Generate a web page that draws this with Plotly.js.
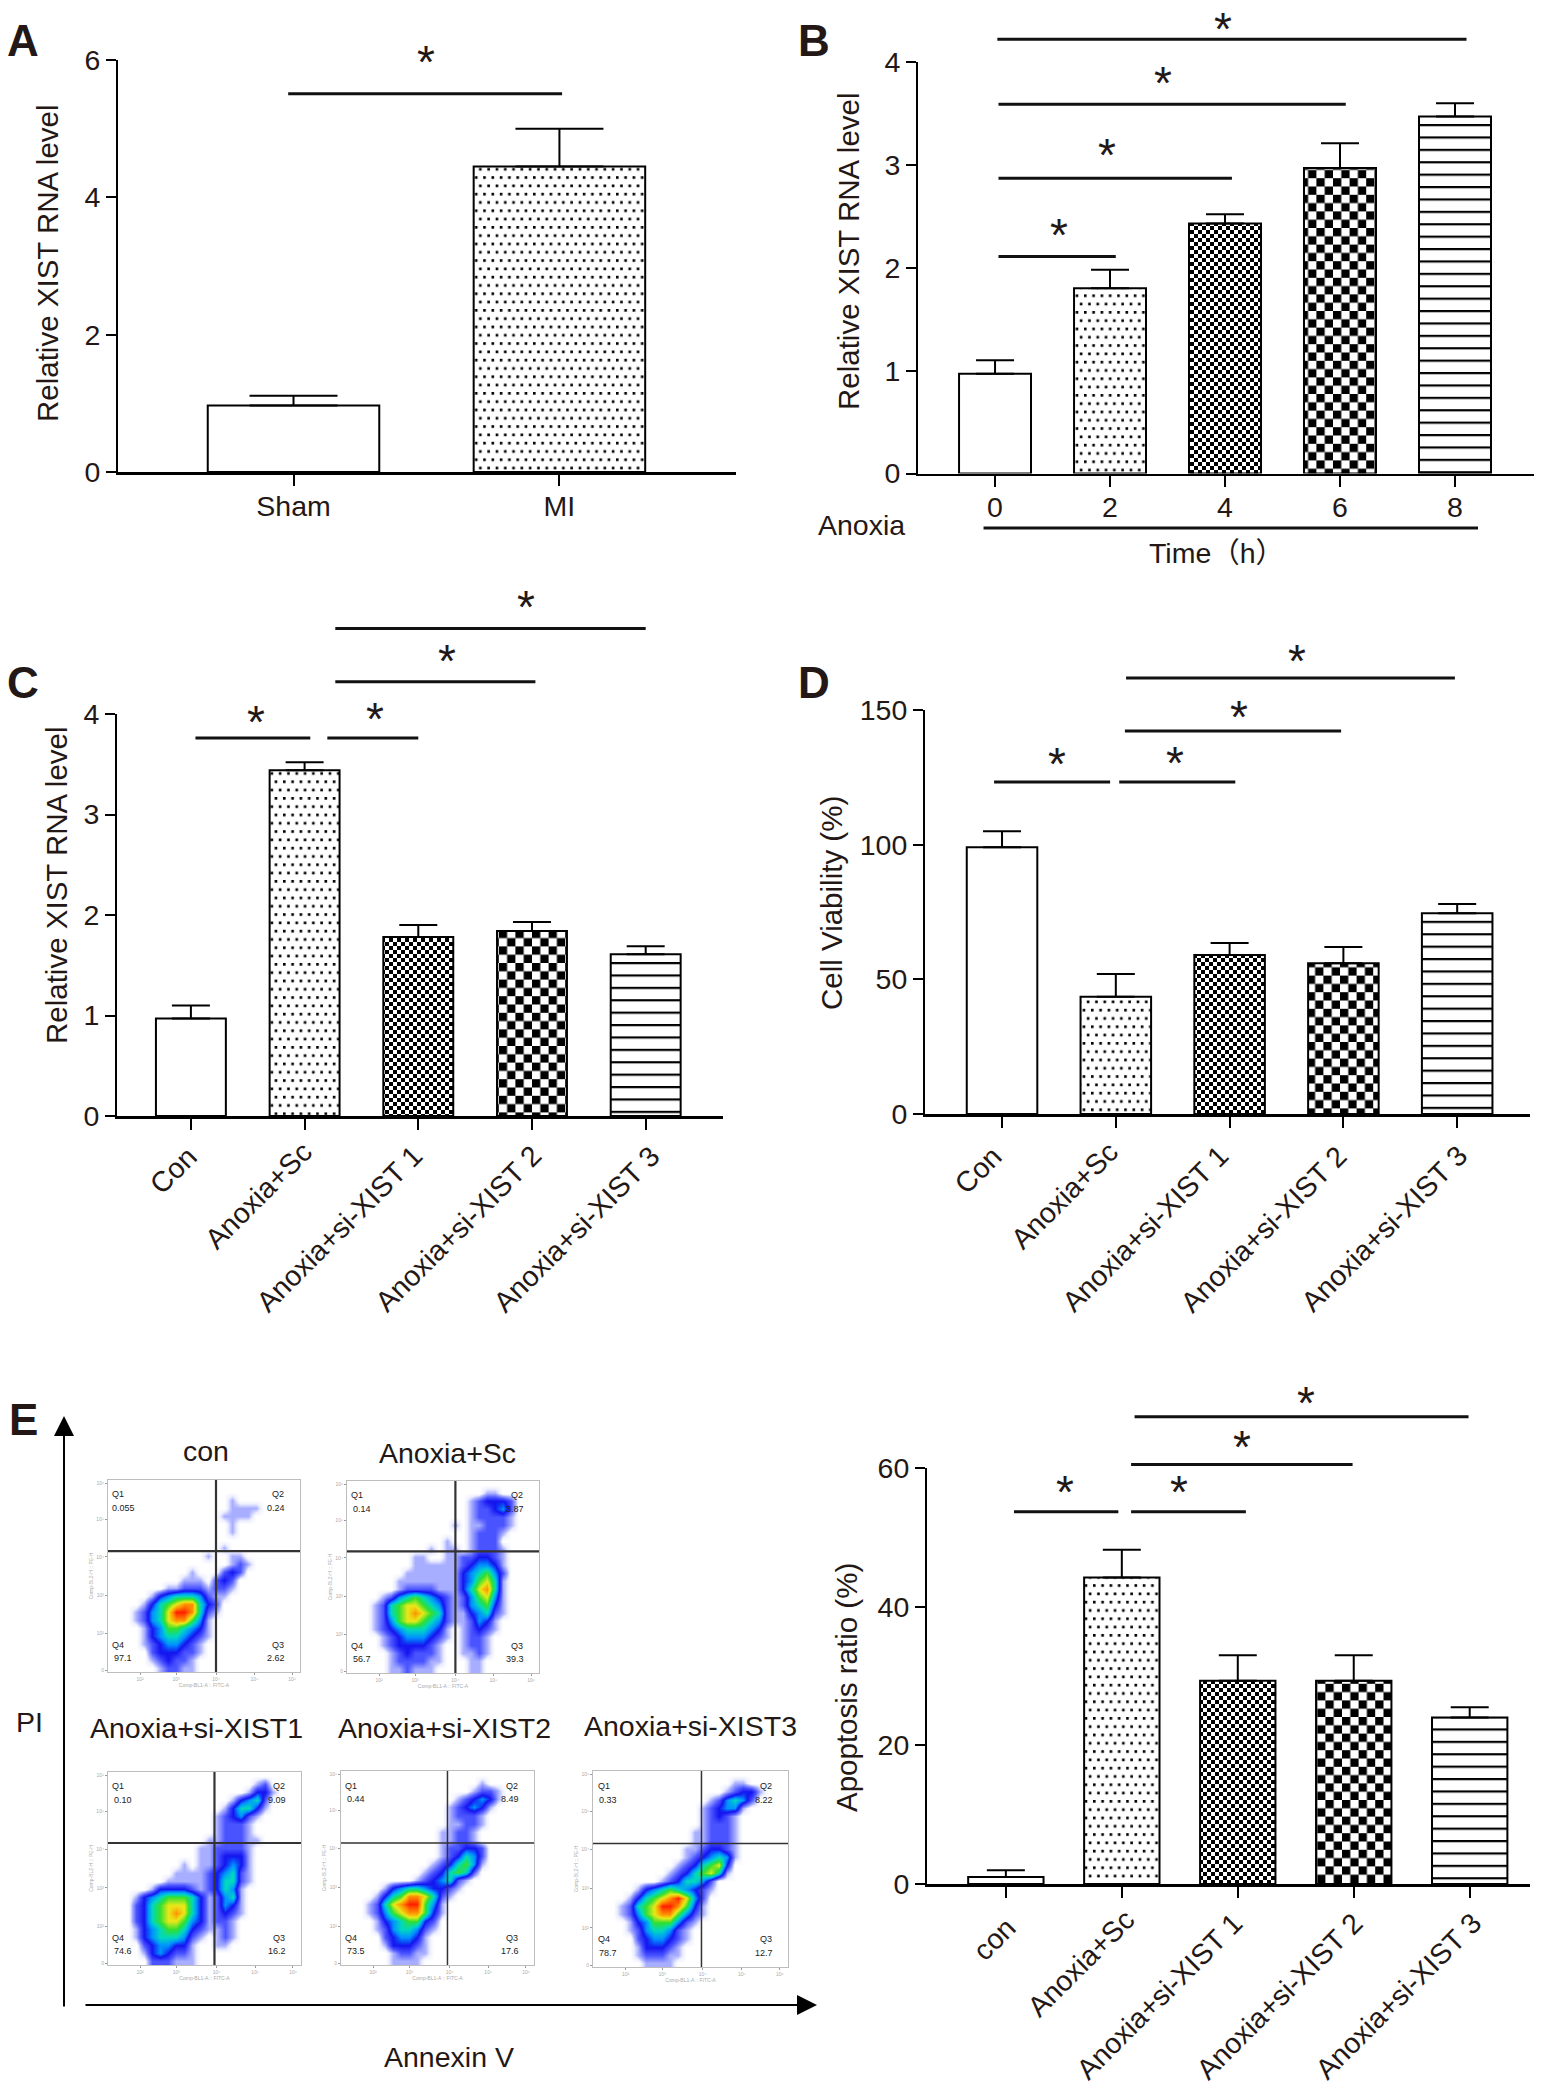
<!DOCTYPE html>
<html><head><meta charset="utf-8">
<script src="https://cdn.plot.ly/plotly-3.0.1.min.js"></script>
<style>html,body{margin:0;padding:0;background:#fff}</style></head>
<body><div id="chart" style="width:1557px;height:2090px"></div>
<script>
// ---------- data ----------
const catsA = ["Sham","MI"];
const valsA = [0.97,4.45];
const topsA = [1.11,5.0];
const catsB = ["0","2","4","6","8"];
const valsB = [0.97,1.8,2.43,2.97,3.47];
const topsB = [1.1,1.98,2.52,3.21,3.6];
const catsC = ["Con","Anoxia+Sc","Anoxia+si-XIST 1","Anoxia+si-XIST 2","Anoxia+si-XIST 3"];
const valsC = [0.97,3.44,1.78,1.84,1.61];
const topsC = [1.1,3.52,1.9,1.93,1.69];
const catsD = catsC;
const valsD = [99,43.5,59,56,74.5];
const topsD = [105,52,63.5,62,78];
const catsE = ["con","Anoxia+Sc","Anoxia+si-XIST 1","Anoxia+si-XIST 2","Anoxia+si-XIST 3"];
const valsE = [1,44.2,29.3,29.3,24];
const topsE = [2,48.2,33,33,25.5];
// significance bars [from, to, level], stars [x, level]
const sigA = [[-0.02,1.01,5.51]];
const starA = [[0.5,6.06]];
const sigB = [[0.02,4.1,4.22],[0.03,3.05,3.59],[0.03,2.06,2.87],[0.03,1.05,2.11]];
const starB = [[1.98,4.45],[1.46,3.85],[0.97,3.15],[0.56,2.38]];
const sigC = [[0.04,1.05,3.76],[1.2,2.0,3.76],[1.27,3.03,4.32],[1.27,4.0,4.85]];
const starC = [[0.57,3.98],[1.62,4.01],[2.25,4.59],[2.95,5.12]];
const sigD = [[-0.07,0.95,123.3],[1.03,2.05,123.3],[1.08,2.98,142.2],[1.09,3.98,161.9]];
const starD = [[0.48,132.2],[1.52,132.6],[2.08,149.6],[2.59,170.4]];
const sigE = [[0.07,0.97,53.7],[1.08,2.07,53.7],[1.08,2.99,60.5],[1.11,3.99,67.4]];
const starE = [[0.51,57.4],[1.49,57.4],[2.04,63.9],[2.59,70.3]];
// flow-cytometry density on a 24x24 grid (digit = density level 0-9)
const flowCon = ["000000000000000000000000","000000000000000000000000","000000000000000100000000","000000000000000111100000","000000000000001111000000","000000000000000100000000","000000000000000100000000","000000000000000000000000","000000000000001000000000","000000000000100110000000","000000000000000121000000","000000000010002320000000","000000000111023200000000","000000011222122100000000","000001345554211000000000","000013567885320000000000","000124579985210000000000","000124578864100000000000","000013466543100000000000","000013455432100000000000","000012344321000000000000","000002333221000000000000","000001232210000000000000","000000122110000000000000"];
const flowSc = ["000000000000000000000000","000000000000000001100000","000000000000000123332000","000000000000000122342000","000000000000000122221000","000000000000010112221000","000000000000000122210000","000000000000100122200000","000000000010110122210000","000000001100112233210000","000000001111112344310000","000000011111113456420000","000000111111113467510000","000000122221113578510000","000012456543212467410000","000125677654212456310000","000125678765211345210000","000124677654211243100000","000123455543101232100000","000012344432101221000000","000012333321001221000000","000001232221001121000000","000001222211000110000000","000001121110000110000000"];
const flowSi1 = ["000000000000000000000000","000000000000000000120000","000000000000000001331000","000000000000000134520000","000000000000001355310000","000000000000012342100000","000000000000012221000000","000000000000012221000000","000000000000112221100000","000000000001122221000000","000000000001123331000000","000000000101123431000000","000000001111234521000000","000000011111235521000000","000001333321235410000000","000134566653124510000000","000235677753124310000000","000235678753123210000000","000235677643122100000000","000134566532112100000000","000134555421012100000000","000023443310011000000000","000013432210000000000000","000002221110000000000000"];
const flowSi2 = ["000000000000000000000000","000000000000000001000000","000000000000000012210000","000000000000001234310000","000000000000012343100000","000000000000012221000000","000000000000011221000000","000000000000112210000000","000000000000112210000000","000000000000122332000000","000000000000123542000000","000000000001235641000000","000000000012356520000000","000000000123452100000000","000001345543321000000000","000013568875210000000000","000125789964100000000000","000124678863100000000000","000013456632000000000000","000012455421000000000000","000002344310000000000000","000001333210000000000000","000000122110000000000000","000000111100000000000000"];
const flowSi3 = ["000000000000000000000000","000000000000000001100000","000000000000000012331000","000000000000001245420000","000000000000012344100000","000000000000012321000000","000000000000012221000000","000000000000112221000000","000000000000112221000000","000000000001123321000000","000000000001234541000000","000000000012356730000000","000000000123567510000000","000000001235542000000000","000001345654321000000000","000013567897420000000000","000125679986310000000000","000124678864210000000000","000013466642100000000000","000012455421000000000000","000002344321000000000000","000001333210000000000000","000001222110000000000000","000000111100000000000000"];
const titlesFlow = ["con","Anoxia+Sc","Anoxia+si-XIST1","Anoxia+si-XIST2","Anoxia+si-XIST3"];
const quadQ1 = ["0.055","0.14","0.10","0.44","0.33"];
const quadQ2 = ["0.24","3.87","9.09","8.49","8.22"];
const quadQ3 = ["2.62","39.3","16.2","17.6","12.7"];
const quadQ4 = ["97.1","56.7","74.6","73.5","78.7"];
const gateCol = [13,13.05,12.74,12.74,12.85];
const gateRow = [8.4,8.3,8.33,8.4,8.39];
const flowTickLabels = ["10\u00b2","10\u00b3","10\u2074","10\u2075","10\u2076"];

// ---------- layout helpers ----------
const W=1557,H=2090, INK="#231815", FONT="Liberation Sans, Arial, sans-serif", SIZE=28.5, TITLE=29.5;
const dotPath="M0 0h2.6v2.6h-2.6zM8.3 0h2.6v2.6h-2.6zM4.15 8.3h2.6v2.6h-2.6zM12.45 8.3h2.6v2.6h-2.6z";
const fine="M0 0h4v4h-4zM4 4h4v4h-4z";
const coarse="M0 0h8.3v8.3h-8.3zM8.3 8.3h8.3v8.3h-8.3z";
const stripes="M0 0h12.4v2.2h-12.4z";
const pat={none:{path:"",size:8},dots:{path:dotPath,size:16.6},fine:{path:fine,size:8},coarse:{path:coarse,size:16.6},stripes:{path:stripes,size:12.4}};
const panels={
 A:{id:"",l:118,r:736,t:60,b:472,xr:[-0.66,1.664],yr:[0,6],yt:[0,2,4,6],bw:0.645,cap:44,cats:catsA,vals:valsA,tops:topsA,pats:["none","dots"],sig:sigA,star:starA},
 B:{id:"2",l:918,r:1534,t:62,b:473.5,xr:[-0.67,4.687],yr:[0,4],yt:[0,1,2,3,4],bw:0.626,cap:19,cats:catsB,vals:valsB,tops:topsB,pats:["none","dots","fine","coarse","stripes"],sig:sigB,star:starB},
 C:{id:"3",l:117,r:723,t:714,b:1116,xr:[-0.65,4.68],yr:[0,4],yt:[0,1,2,3,4],bw:0.615,cap:19,cats:catsC,vals:valsC,tops:topsC,pats:["none","dots","fine","coarse","stripes"],sig:sigC,star:starC,
    rot:[[130,877],[194,896],[254,921],[343,921],[432,921]]},
 D:{id:"4",l:925,r:1530,t:710,b:1114,xr:[-0.677,4.64],yr:[0,150],yt:[0,50,100,150],bw:0.62,cap:19,cats:catsD,vals:valsD,tops:topsD,pats:["none","dots","fine","coarse","stripes"],sig:sigD,star:starD,
    rot:[[733,877],[798,896],[858,921],[947,921],[1037,921]]},
 E:{id:"5",l:927,r:1530,t:1468,b:1884,xr:[-0.68,4.52],yr:[0,60],yt:[0,20,40,60],bw:0.65,cap:19,cats:catsE,vals:valsE,tops:topsE,pats:["none","dots","fine","coarse","stripes"],sig:sigE,star:starE,
    rot:[[745,1453],[810,1471],[869,1496],[959,1496],[1048,1496]]}
};
const data=[], shapes=[], annotations=[];
const layout={width:W,height:H,margin:{l:0,r:0,t:0,b:0},paper_bgcolor:"#fff",plot_bgcolor:"rgba(0,0,0,0)",showlegend:false,bargap:0,
  font:{family:FONT,color:INK,size:SIZE},shapes,annotations};
const px=(x)=>x/W, py=(y)=>1-y/H;
function text(t,x,y,size,o){annotations.push(Object.assign({text:t,xref:"paper",yref:"paper",x:px(x),y:py(y),xanchor:"center",yanchor:"middle",showarrow:false,font:{family:FONT,size:size||SIZE,color:INK}},o||{}));}

for(const k in panels){
 const p=panels[k], xk="xaxis"+p.id, yk="yaxis"+p.id;
 const X=v=>px(p.l+(v-p.xr[0])/(p.xr[1]-p.xr[0])*(p.r-p.l));
 const Y=v=>py(p.b-(v-p.yr[0])/(p.yr[1]-p.yr[0])*(p.b-p.t));
 p.X=X;p.Y=Y;
 data.push({type:"bar",xaxis:"x"+p.id,yaxis:"y"+p.id,x:p.cats,y:p.vals,width:p.bw,hoverinfo:"skip",
   marker:{color:"#fff",line:{color:"#000",width:2},pattern:{path:p.pats.map(n=>pat[n].path),size:p.pats.map(n=>pat[n].size),fgcolor:"#000",bgcolor:"#fff",fillmode:"replace"}},
   error_y:{type:"data",symmetric:false,array:p.tops.map((t,i)=>t-p.vals[i]),arrayminus:p.vals.map(()=>0),color:"#000",thickness:2,width:p.cap}});
 layout[xk]={domain:[px(p.l),px(p.r)],range:p.xr,type:"category",anchor:"y"+p.id,showline:true,linecolor:"#000",linewidth:2.5,ticks:"outside",ticklen:11,tickwidth:2,tickcolor:"#000",showgrid:false,zeroline:false,tickangle:0,tickfont:{family:FONT,size:SIZE,color:INK},tickmode:"array",tickvals:p.cats,ticktext:p.cats,ticklabelstandoff:-4,automargin:false,showticklabels:!p.rot};
 layout[yk]={domain:[py(p.b),py(p.t)],range:p.yr,anchor:"x"+p.id,showline:true,linecolor:"#000",linewidth:2,ticks:"outside",ticklen:10,tickwidth:2,tickcolor:"#000",showgrid:false,zeroline:false,tickmode:"array",tickvals:p.yt,tickfont:{family:FONT,size:SIZE,color:INK},ticklabelstandoff:0,automargin:false};
 p.sig.forEach(s=>shapes.push({type:"line",xref:"paper",yref:"paper",x0:X(s[0]),x1:X(s[1]),y0:Y(s[2]),y1:Y(s[2]),line:{color:"#111",width:3}}));
 p.star.forEach(s=>{
   const y=Y(s[1]), boxTop=(1-y)*H-21;
   annotations.push(boxTop<1
     ? {text:"*",xref:"paper",yref:"paper",x:X(s[0]),y:1,xanchor:"center",yanchor:"top",yshift:-1,showarrow:false,font:{family:FONT,size:46,color:INK}}
     : {text:"*",xref:"paper",yref:"paper",x:X(s[0]),y:y,xanchor:"center",yanchor:"middle",yshift:-6,showarrow:false,font:{family:FONT,size:46,color:INK}});
 });
 if(p.rot) p.rot.forEach((c,i)=>text(p.cats[i],c[0]*1.3342,c[1]*1.3342,SIZE,{textangle:-45}));
}
// y titles and panel letters
text("Relative XIST RNA level",47,263,TITLE,{textangle:-90});
text("Relative XIST RNA level",849,251,TITLE,{textangle:-90});
text("Relative XIST RNA level",56,885,TITLE,{textangle:-90});
text("Cell Viability (%)",831,903,TITLE,{textangle:-90});
text("Apoptosis ratio (%)",846,1687,TITLE,{textangle:-90});
[["A",23,41],["B",814,41],["C",23,682],["D",814,682],["E",23,1419]].forEach(a=>text("<b>"+a[0]+"</b>",a[1],a[2],44));
// B extras
text("Anoxia",861,525,SIZE); text("Time\uff08h\uff09",1216,553,SIZE,{font:{family:"Liberation Sans, Noto Sans CJK SC, sans-serif",size:SIZE,color:INK}});
shapes.push({type:"line",xref:"paper",yref:"paper",x0:panels.B.X(-0.1),x1:panels.B.X(4.2),y0:py(528),y1:py(528),line:{color:"#111",width:3}});

// ---------- flow panels ----------
const flows=[flowCon,flowSc,flowSi1,flowSi2,flowSi3];
const boxes=[[108,300,1480,1672,3],[347,539,1481,1673,3],[108,301,1772,1965,3],[341,534,1771,1965,1.5],[593,788,1771,1967,1.5]];
const titlePos=[[206,1451],[448,1453],[196,1728],[444,1728],[690,1726]];
const scale=[[0,"#ffffff"],[0.05,"#eceeff"],[0.11,"#a8aeff"],[0.22,"#4a54ff"],[0.33,"#1414f0"],[0.44,"#0090ff"],[0.55,"#00d8c0"],[0.66,"#30e030"],[0.78,"#e8e818"],[0.89,"#ff9000"],[1,"#ff2000"]];
flows.forEach((g,i)=>{
 const n=i+6,b=boxes[i],xa="x"+n,ya="y"+n;
 data.push({type:"heatmap",xaxis:xa,yaxis:ya,z:g.map(r=>r.split("").map(Number)),zmin:0,zmax:9,colorscale:scale,showscale:false,zsmooth:"best",hoverinfo:"skip"});
 const base={showline:true,mirror:true,linecolor:"#bdbdbd",linewidth:1,showgrid:false,zeroline:false,ticks:"outside",ticklen:2,tickwidth:1,tickcolor:"#999",tickfont:{family:FONT,size:5,color:"#aaa"},automargin:false,tickangle:0};
 layout["xaxis"+n]=Object.assign({},base,{domain:[px(b[0]),px(b[1])],range:[-0.5,23.5],anchor:ya,tickmode:"array",tickvals:[3.5,8,13,17.8,22.5],ticktext:flowTickLabels,title:{text:"Comp-BL1-A :: FITC-A",font:{size:5,color:"#aaa",family:FONT},standoff:2}});
 layout["yaxis"+n]=Object.assign({},base,{domain:[py(b[3]),py(b[2])],range:[23.5,-0.5],anchor:xa,tickmode:"array",tickvals:[23.3,18.7,13.9,9.1,4.4,-0.1],ticktext:["0"].concat(flowTickLabels),title:{text:"Comp-BL2-H :: PE-H",font:{size:5,color:"#aaa",family:FONT},standoff:2}});
 shapes.push({type:"line",xref:xa,yref:ya,x0:gateCol[i],x1:gateCol[i],y0:-0.5,y1:23.5,line:{color:"#333",width:b[4]==3?2.2:1.5}});
 shapes.push({type:"line",xref:xa,yref:ya,x0:-0.5,x1:23.5,y0:gateRow[i],y1:gateRow[i],line:{color:"#333",width:b[4]==3?2.2:1.5}});
 const q=(t,c,r)=>annotations.push({text:t,xref:xa,yref:ya,x:c,y:r,xanchor:"center",yanchor:"middle",showarrow:false,font:{family:FONT,size:9,color:"#222"}});
 q("Q1",0.8,1.3);q(quadQ1[i],1.4,3);q("Q2",20.8,1.3);q(quadQ2[i],20.5,3);
 q("Q4",0.8,20.1);q(quadQ4[i],1.4,21.8);q("Q3",20.8,20.1);q(quadQ3[i],20.5,21.8);
 text(titlesFlow[i],titlePos[i][0],titlePos[i][1],SIZE);
});
text("PI",30,1722,SIZE); text("Annexin V",449,2057,SIZE);
annotations.push({text:"",xref:"paper",yref:"paper",x:px(64),y:py(1416),ax:0,ay:592,arrowhead:2,arrowsize:2,arrowwidth:2,arrowcolor:"#000",showarrow:true});
annotations.push({text:"",xref:"paper",yref:"paper",x:px(817),y:py(2005),ax:-733,ay:0,arrowhead:2,arrowsize:2,arrowwidth:2,arrowcolor:"#000",showarrow:true});

Plotly.newPlot("chart",data,layout,{displayModeBar:false,staticPlot:true});
</script></body></html>
